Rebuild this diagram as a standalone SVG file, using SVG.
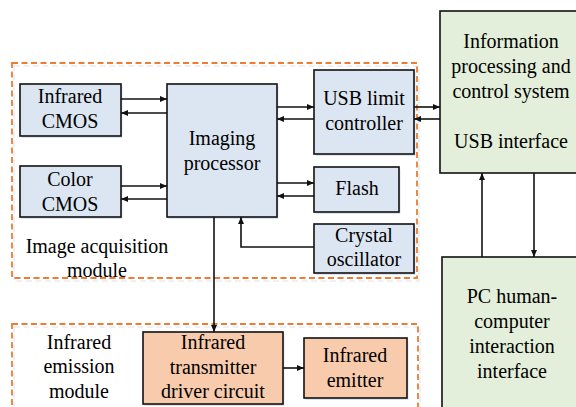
<svg xmlns="http://www.w3.org/2000/svg" width="576" height="407" viewBox="0 0 576 407">
  <defs>
    <marker id="arr" markerWidth="7" markerHeight="6" refX="7" refY="3" orient="auto" markerUnits="userSpaceOnUse">
      <path d="M0,0 L7,3 L0,6 Z" fill="#111"/>
    </marker>
  </defs>
  <style>
    .box { stroke: #111; stroke-width: 1.6; }
    .blue { fill: #dce6f2; }
    .green { fill: #e3efda; }
    .orange { fill: #f8cbad; }
    .shadow { fill: #dbe4f0; }
    .group { fill: none; stroke: #ed7d31; stroke-width: 1.8; stroke-dasharray: 6 3.5; }
    .groupsh { fill: none; stroke: #dbe4f0; stroke-width: 1.2; stroke-dasharray: 6 3.5; }
    .wire { fill: none; stroke: #111; stroke-width: 1.6; marker-end: url(#arr); }
  </style>

  <rect width="576" height="407" fill="#fff"/>

  <!-- module frames -->
  <g id="image-acquisition-module">
    <rect class="groupsh" x="14" y="66" width="405" height="215"/>
    <rect class="group" x="12" y="63" width="405" height="215"/>
    <text font-family="Liberation Serif" font-size="20" text-anchor="middle" x="97" y="253">Image acquisition</text>
    <text font-family="Liberation Serif" font-size="20" text-anchor="middle" x="97" y="277">module</text>
  </g>
  <g id="infrared-emission-module">
    <rect class="groupsh" x="14" y="327" width="406" height="100"/>
    <rect class="group" x="12" y="324" width="406" height="100"/>
    <text font-family="Liberation Serif" font-size="20" text-anchor="middle" x="79" y="349">Infrared</text>
    <text font-family="Liberation Serif" font-size="20" text-anchor="middle" x="79" y="373">emission</text>
    <text font-family="Liberation Serif" font-size="20" text-anchor="middle" x="79" y="398">module</text>
  </g>

  <!-- nodes -->
  <g id="infrared-cmos">
    <rect class="shadow" x="21.5" y="86" width="101" height="52"/>
    <rect class="box blue" x="20" y="84" width="101" height="52"/>
    <text font-family="Liberation Serif" font-size="20" text-anchor="middle" x="70" y="103">Infrared</text>
    <text font-family="Liberation Serif" font-size="20" text-anchor="middle" x="70" y="128">CMOS</text>
  </g>
  <g id="color-cmos">
    <rect class="shadow" x="21.5" y="168" width="101" height="51"/>
    <rect class="box blue" x="20" y="166" width="101" height="51"/>
    <text font-family="Liberation Serif" font-size="20" text-anchor="middle" x="70" y="186">Color</text>
    <text font-family="Liberation Serif" font-size="20" text-anchor="middle" x="70" y="211">CMOS</text>
  </g>
  <g id="imaging-processor">
    <rect class="shadow" x="168.5" y="86" width="110" height="133"/>
    <rect class="box blue" x="167" y="84" width="110" height="133"/>
    <text font-family="Liberation Serif" font-size="20" text-anchor="middle" x="222" y="145">Imaging</text>
    <text font-family="Liberation Serif" font-size="20" text-anchor="middle" x="222" y="170">processor</text>
  </g>
  <g id="usb-limit-controller">
    <rect class="shadow" x="315.5" y="72" width="100" height="84"/>
    <rect class="box blue" x="314" y="70" width="100" height="84"/>
    <text font-family="Liberation Serif" font-size="20" text-anchor="middle" x="364" y="105">USB limit</text>
    <text font-family="Liberation Serif" font-size="20" text-anchor="middle" x="364" y="130">controller</text>
  </g>
  <g id="flash">
    <rect class="shadow" x="315.5" y="169" width="85" height="45"/>
    <rect class="box blue" x="314" y="167" width="85" height="45"/>
    <text font-family="Liberation Serif" font-size="20" text-anchor="middle" x="357" y="195">Flash</text>
  </g>
  <g id="crystal-oscillator">
    <rect class="shadow" x="315.5" y="226" width="100" height="49"/>
    <rect class="box blue" x="314" y="224" width="100" height="49"/>
    <text font-family="Liberation Serif" font-size="20" text-anchor="middle" x="364" y="242">Crystal</text>
    <text font-family="Liberation Serif" font-size="20" text-anchor="middle" x="364" y="266">oscillator</text>
  </g>
  <g id="info-processing">
    <rect class="box green" x="440" y="11" width="150" height="162"/>
    <text font-family="Liberation Serif" font-size="20" text-anchor="middle" x="511" y="48">Information</text>
    <text font-family="Liberation Serif" font-size="20" text-anchor="middle" x="511" y="73">processing and</text>
    <text font-family="Liberation Serif" font-size="20" text-anchor="middle" x="511" y="98">control system</text>
    <text font-family="Liberation Serif" font-size="20" text-anchor="middle" x="511" y="148">USB interface</text>
  </g>
  <g id="pc-interface">
    <rect class="box green" x="442" y="257" width="150" height="170"/>
    <text font-family="Liberation Serif" font-size="20" text-anchor="middle" x="512" y="303">PC human-</text>
    <text font-family="Liberation Serif" font-size="20" text-anchor="middle" x="512" y="328">computer</text>
    <text font-family="Liberation Serif" font-size="20" text-anchor="middle" x="512" y="353">interaction</text>
    <text font-family="Liberation Serif" font-size="20" text-anchor="middle" x="512" y="378">interface</text>
  </g>
  <g id="ir-driver">
    <rect class="shadow" x="144.5" y="334" width="140" height="72"/>
    <rect class="box orange" x="143" y="332" width="140" height="72"/>
    <text font-family="Liberation Serif" font-size="20" text-anchor="middle" x="213" y="349">Infrared</text>
    <text font-family="Liberation Serif" font-size="20" text-anchor="middle" x="213" y="374">transmitter</text>
    <text font-family="Liberation Serif" font-size="20" text-anchor="middle" x="213" y="398">driver circuit</text>
  </g>
  <g id="ir-emitter">
    <rect class="shadow" x="305.5" y="340" width="103" height="60"/>
    <rect class="box orange" x="304" y="338" width="103" height="60"/>
    <text font-family="Liberation Serif" font-size="20" text-anchor="middle" x="355" y="362">Infrared</text>
    <text font-family="Liberation Serif" font-size="20" text-anchor="middle" x="355" y="387">emitter</text>
  </g>

  <!-- connectors -->
  <g id="connectors">
    <path class="wire" d="M121,99 H167"/>
    <path class="wire" d="M167,113 H121"/>
    <path class="wire" d="M121,186 H167"/>
    <path class="wire" d="M167,199 H121"/>
    <path class="wire" d="M277,107 H314"/>
    <path class="wire" d="M314,119 H277"/>
    <path class="wire" d="M277,183 H314"/>
    <path class="wire" d="M314,196 H277"/>
    <path class="wire" d="M314,247 H241 V217"/>
    <path class="wire" d="M214,217 V332"/>
    <path class="wire" d="M414,107 H440"/>
    <path class="wire" d="M440,119 H414"/>
    <path class="wire" d="M482,257 V173"/>
    <path class="wire" d="M534,173 V257"/>
    <path class="wire" d="M283,368 H304"/>
  </g>
</svg>
